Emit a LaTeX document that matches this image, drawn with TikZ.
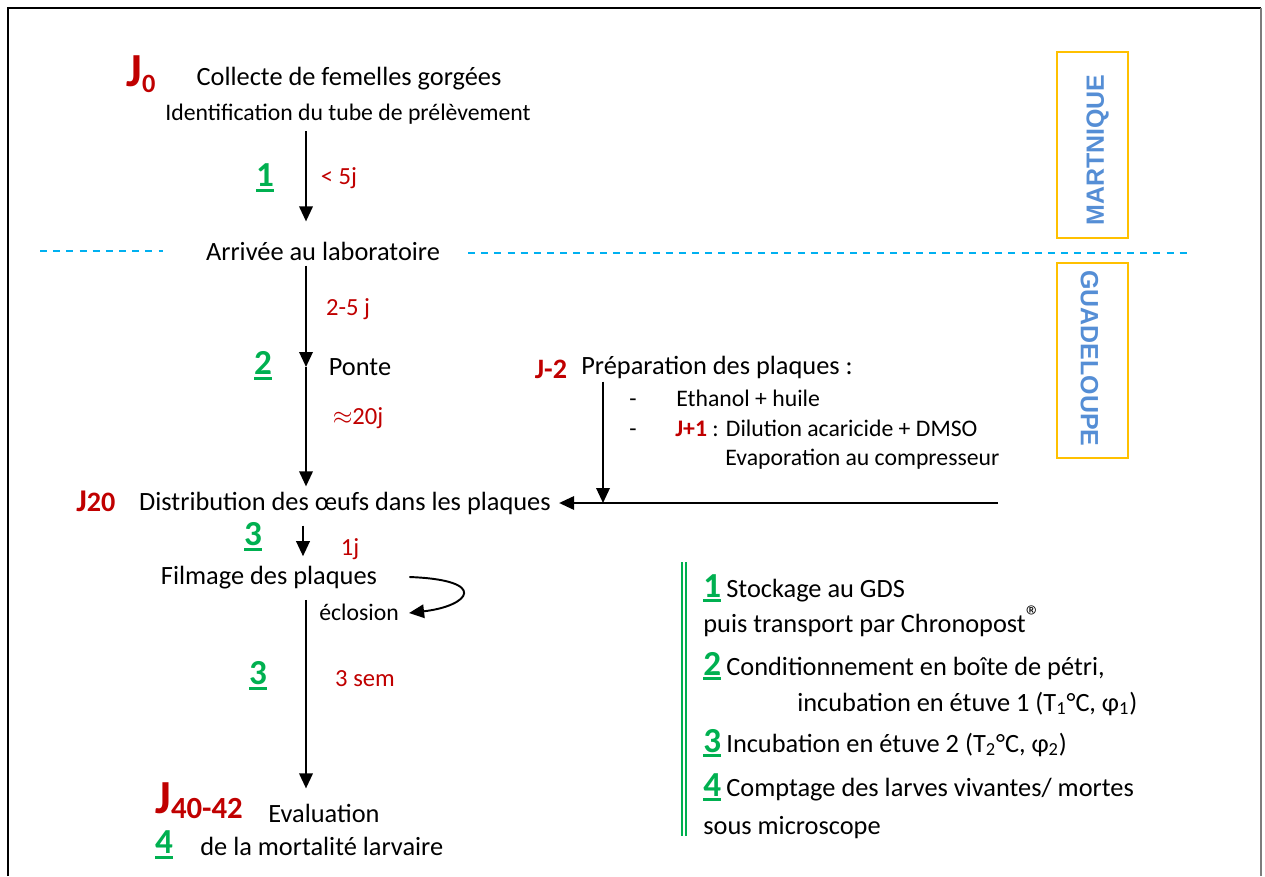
\documentclass[tikz,border=0pt]{standalone}
\usepackage{fontspec}
\setmainfont{Carlito}
\newfontfamily\islandfont{Liberation Sans}
\usetikzlibrary{arrows.meta,positioning,calc}
\definecolor{stepred}{RGB}{192,0,0}
\definecolor{stepgreen}{RGB}{0,176,80}
\definecolor{islandblue}{RGB}{85,142,213}
\definecolor{islandbox}{RGB}{255,192,0}
\definecolor{seablue}{RGB}{0,176,240}
\definecolor{framegray}{RGB}{125,125,125}
\newcommand{\ulnum}[1]{\begingroup\setbox0\hbox{#1}\rlap{\rule[-2.9pt]{\wd0}{1.6pt}}\box0\endgroup}
\newcommand{\jday}[4]{{\fontsize{#2}{#2}\selectfont J}{\fontsize{#3}{#3}\selectfont\raisebox{#4}{#1}}}

\begin{document}
\begin{tikzpicture}[
x=0.2mm,y=-0.2mm,
txt/.style={
inner sep=0pt,
font=\fontsize{15}{18}\selectfont
},
small/.style={
inner sep=0pt,
font=\fontsize{13.5}{16}\selectfont
},
dur/.style={
inner sep=0pt,
color=stepred,
font=\fontsize{14}{17}\selectfont
},
num/.style={
inner sep=0pt,
color=stepgreen,
font=\fontsize{20}{24}\selectfont\bfseries
},
jlab/.style={
inner sep=0pt,
color=stepred,
font=\bfseries
},
island/.style={
draw=islandbox,
line width=1.2pt,
minimum width=71*0.2mm,
inner sep=0pt
},
islandtxt/.style={
color=islandblue,
font=\islandfont\bfseries\fontsize{14.2}{16}\selectfont
},
edge/.style={
-{Triangle[length=3mm,width=2.7mm]},
line width=1.1pt
},
sea/.style={
seablue,
line width=0.9pt,
dash pattern=on 4pt off 3.5pt
}
]

\useasboundingbox (0,0) rectangle (1265,876);
\draw[line width=0.6pt] (8,876) -- (8,8) -- (1261,8);
\draw[framegray,line width=1.3pt] (1261,8) -- (1261,876);

\coordinate (ax) at (306,0);
\coordinate (dropx) at (603,0);

\node[jlab,anchor=base west] (j0) at (126,87) {\jday{0}{27}{15}{-3pt}};
\node[txt] (collecte) at (349,79) {Collecte de femelles gorgées};
\node[small] (ident) at (348,114) {Identification du tube de prélèvement};

\node[num] (n1) at (265,178) {\ulnum{1}};
\node[dur] (d1) at (339,178) {< 5j};

\node[txt] (arrivee) at (323,251) {Arrivée au laboratoire};
\coordinate (sea1) at (40,251);
\coordinate (sea2) at (1190,253);
\draw[sea] (sea1) -- (163,251);
\draw[sea] (468,253) -- (sea2);

\node[island,minimum height=186*0.2mm] (mart) at (1092.5,145) {};
\node[islandtxt,rotate=90] at ($(mart)+(5,5)$) {MARTNIQUE};
\node[island,minimum height=195*0.2mm] (guad) at (1092.5,360.5) {};
\node[islandtxt,rotate=-90] at ($(guad)+(-3,-2)$) {GUADELOUPE};

\node[dur] (d2) at (348,309) {2-5 j};
\node[num] (n2) at (263,366) {\ulnum{2}};
\node[txt] (ponte) at (360,367) {Ponte};
\node[dur] (d3) at (358,418) {$\approx$20j};

\node[jlab,anchor=base west] (j20) at (76,511) {\jday{20}{18}{16}{0pt}};
\node[txt] (distrib) at (345,503) {Distribution des œufs dans les plaques};

\node[jlab,font=\bfseries\fontsize{16}{18}\selectfont] (jm2) at (551,369) {J-2};
\node[txt,anchor=west] (prep) at (581,367) {Préparation des plaques :};
\node[small,anchor=base] (dash1) at (633,406) {-};
\node[small,anchor=base west] (eth) at (676,406) {Ethanol + huile};
\node[small,anchor=base] (dash2) at (633,436) {-};
\node[small,anchor=base west] (dil) at (675,436) {\textcolor{stepred}{\bfseries J+1} : Dilution acaricide + DMSO};
\node[small,anchor=base west] (evap) at (725,465) {Evaporation au compresseur};
\coordinate (feed) at (998,503);

\node[num] (n3a) at (253,537) {\ulnum{3}};
\node[dur] (d4) at (350,549) {1j};
\node[txt] (film) at (269,578) {Filmage des plaques};
\node[small] (eclo) at (359,612) {éclosion};

\node[num] (n3b) at (258,676) {\ulnum{3}};
\node[dur] (d5) at (365,679) {3 sem};

\node[jlab,anchor=base west] (j40) at (155,813) {\jday{40-42}{27}{17.5}{-3pt}};
\node[txt] (evalu) at (324,813) {Evaluation};
\node[num] (n4) at (164,845) {\ulnum{4}};
\node[txt,anchor=west] (mort) at (200,846) {de la mortalité larvaire};

\draw[edge] ($(ident.south -| ax)+(0,7)$) -- ($(arrivee.north -| ax)+(0,-20)$);
\draw[edge] ($(arrivee.south -| ax)+(0,5)$) -- (ponte.west -| ax);
\draw[edge] (ponte.west -| ax) -- ($(distrib.north -| ax)+(0,-5)$);
\draw[edge] ($(distrib.south -| ax)+(-3,11)$) -- ($(film.north -| ax)+(-3,-10)$);
\draw[edge] ($(film.south -| ax)+(0,10)$) -- ($(evalu.north -| ax)+(0,-15)$);
\draw[edge] (feed) -- ($(distrib.east)+(8,0)$);
\draw[edge] ($(prep.south -| dropx)+(0,3)$) -- (feed -| dropx);
\draw[edge] ($(film.east)+(32,-1)$) .. controls (490,580) and (470,606) .. ($(eclo.east)+(10,1)$);

\draw[stepgreen,line width=1pt] (682,562) -- (682,836);
\draw[stepgreen,line width=1pt] (686,562) -- (686,836);

\node[num,anchor=base west] (l1) at (703,597) {\ulnum{1}};
\node[txt,anchor=base west] (l1a) at (726,597) {Stockage au GDS};
\node[txt,anchor=base west] (l1b) at (703,632) {puis transport par Chronopost{\fontsize{17}{17}\selectfont\raisebox{3pt}{®}}};
\node[num,anchor=base west] (l2) at (703,675) {\ulnum{2}};
\node[txt,anchor=base west] (l2a) at (726,675) {Conditionnement en boîte de pétri,};
\node[txt,anchor=base west] (l2b) at (797,711) {incubation en étuve 1 (T\textsubscript{1}°C, φ\textsubscript{1})};
\node[num,anchor=base west] (l3) at (703,752) {\ulnum{3}};
\node[txt,anchor=base west] (l3a) at (726,752) {Incubation en étuve 2 (T\textsubscript{2}°C, φ\textsubscript{2})};
\node[num,anchor=base west] (l4) at (703,796) {\ulnum{4}};
\node[txt,anchor=base west] (l4a) at (726,796) {Comptage des larves vivantes/ mortes};
\node[txt,anchor=base west] (l4b) at (703,834) {sous microscope};

\end{tikzpicture}
\end{document}
